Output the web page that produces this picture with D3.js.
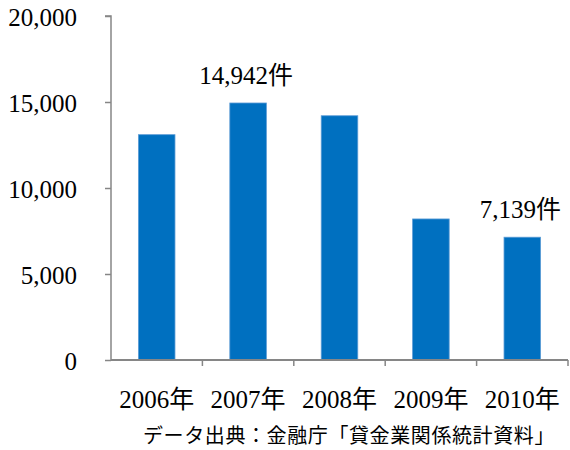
<!DOCTYPE html>
<html><head><meta charset="utf-8">
<script src="https://cdn.jsdelivr.net/npm/d3@7"></script>
<style>body{margin:0;background:#fff}</style>
</head><body>
<svg id="c" width="570" height="450"></svg>
<script>
const categories = ["2006年","2007年","2008年","2009年","2010年"];
const values = [13100, 14942, 14200, 8200, 7139];
const yTicks = [0, 5000, 10000, 15000, 20000];
const annotations = [{i:1, text:"14,942件"}, {i:4, text:"7,139件"}];
const source = "データ出典：金融庁「貸金業関係統計資料」";

(function(){
const svg = d3.select("#c");
const mLeft = 111, mRight = 568, mTop = 16, mBottom = 360;
const serif = "'Liberation Serif','Noto Sans CJK JP',serif";
const axisColor = "#868686";

const x = d3.scaleBand().domain(categories).range([mLeft, mRight]).paddingInner(0.6).paddingOuter(0.3);
const y = d3.scaleLinear().domain([0, 20000]).range([mBottom, mTop]);

svg.selectAll("rect.bar").data(values).enter().append("rect")
  .attr("class","bar")
  .attr("x",(d,i)=>x(categories[i]))
  .attr("width",x.bandwidth())
  .attr("y",d=>y(d))
  .attr("height",d=>mBottom-y(d))
  .attr("fill","#0070C0")
  .attr("stroke","#5B9BD5").attr("stroke-width",0.8);

const yAxis = d3.axisLeft(y).tickValues(yTicks).tickSize(6).tickPadding(28)
  .tickFormat(d3.format(","));
const gy = svg.append("g").attr("transform",`translate(${mLeft},0)`).call(yAxis);
gy.select(".domain").attr("stroke",axisColor).attr("stroke-width",1.5).attr("d",`M-6,${mTop}H0V${mBottom}`);
gy.selectAll(".tick line").attr("stroke",axisColor).attr("stroke-width",1.5);
gy.selectAll(".tick text").attr("font-family",serif).attr("font-size",25).attr("fill","#000").attr("dy","0.36em");

const xb = d3.scaleLinear().domain([0,5]).range([mLeft,mRight]);
const gx = svg.append("g");
gx.append("line").attr("x1",mLeft).attr("x2",mRight).attr("y1",mBottom).attr("y2",mBottom)
  .attr("stroke",axisColor).attr("stroke-width",2);
gx.selectAll("line.t").data(d3.range(1,6)).enter().append("line").attr("class","t")
  .attr("x1",d=>xb(d)).attr("x2",d=>xb(d)).attr("y1",mBottom).attr("y2",mBottom+6)
  .attr("stroke",axisColor).attr("stroke-width",1.5);
gx.selectAll("text").data(categories).enter().append("text")
  .attr("x",d=>x(d)+x.bandwidth()/2).attr("y",408)
  .attr("text-anchor","middle").attr("font-family",serif).attr("font-size",25).attr("fill","#000")
  .text(d=>d);

svg.selectAll("text.ann").data(annotations).enter().append("text").attr("class","ann")
  .attr("x",d=>x(categories[d.i])+x.bandwidth()/2 - 2)
  .attr("y",d=>y(values[d.i])-19)
  .attr("text-anchor","middle").attr("font-family",serif).attr("font-size",25).attr("fill","#000")
  .text(d=>d.text);

svg.append("text").attr("x",349).attr("y",443).attr("text-anchor","middle")
  .attr("font-family","'Noto Sans CJK JP',sans-serif").attr("font-size",20).attr("letter-spacing",0.6).attr("fill","#000")
  .text(source);
})();
</script>
</body></html>
